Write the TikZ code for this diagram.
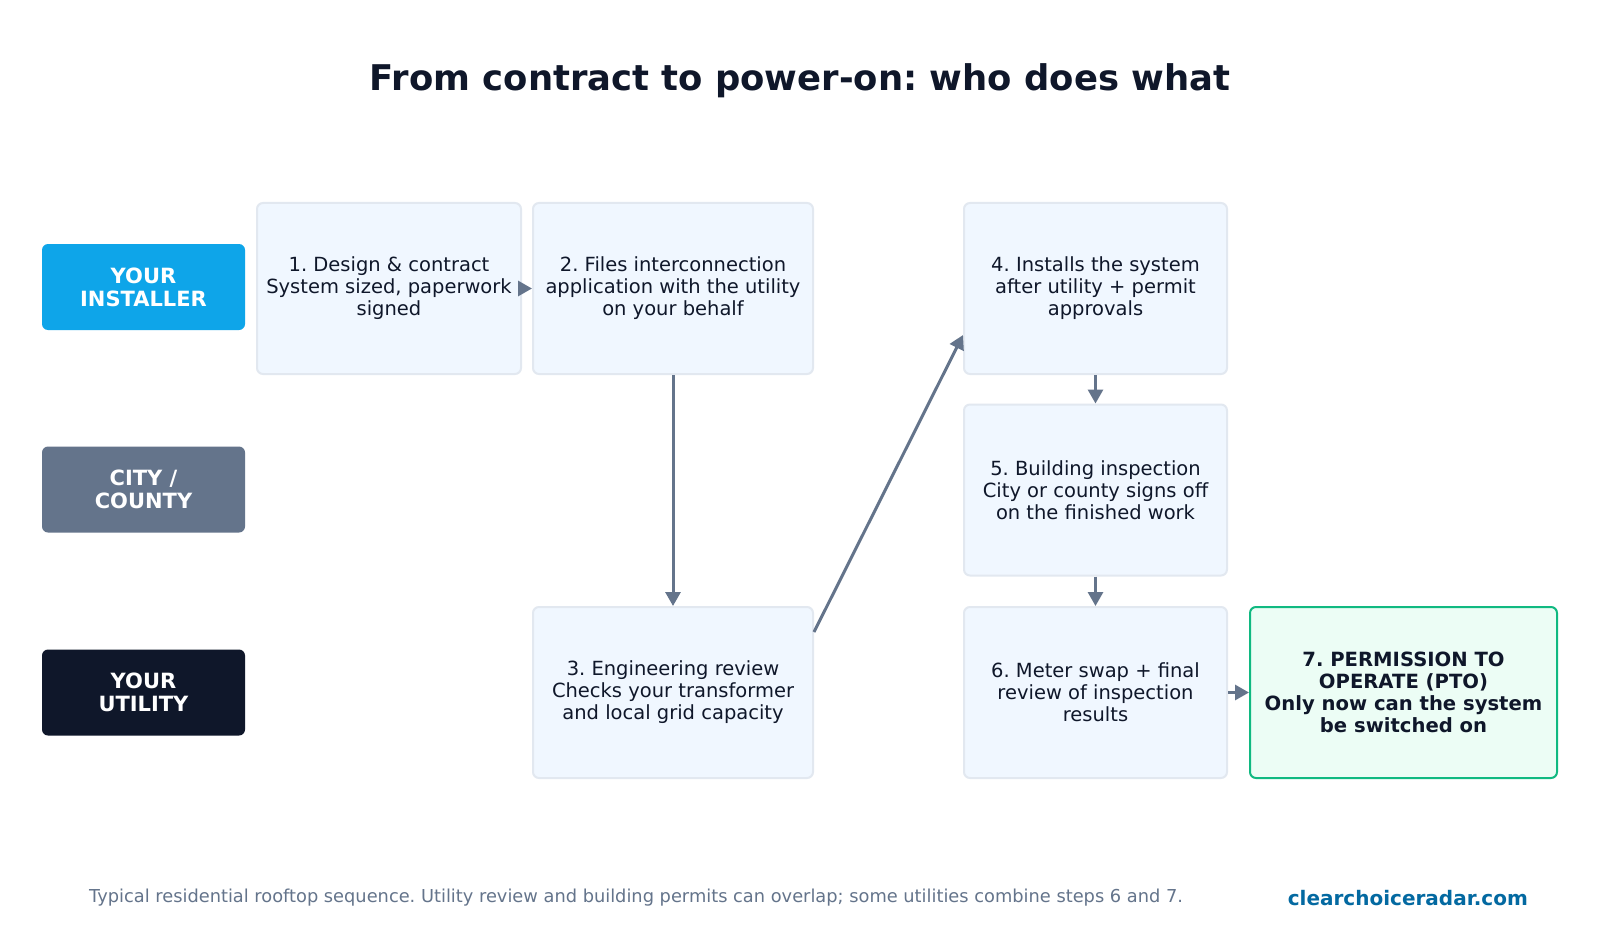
\documentclass[tikz,border=0pt]{standalone}
\usepackage{fontspec}
\setmainfont{DejaVu Sans}
\usetikzlibrary{arrows.meta}
\frenchspacing
\definecolor{cInstaller}{HTML}{0EA5E9}
\definecolor{cCity}{HTML}{64748B}
\definecolor{cUtility}{HTML}{0F172A}
\definecolor{cBoxFill}{HTML}{F0F7FF}
\definecolor{cBoxLine}{HTML}{E2E8F0}
\definecolor{cPtoFill}{HTML}{ECFDF5}
\definecolor{cPtoLine}{HTML}{10B981}
\definecolor{cArrow}{HTML}{64748B}
\definecolor{cText}{HTML}{0F172A}
\definecolor{cFoot}{HTML}{64748B}
\definecolor{cSite}{HTML}{0369A1}
\tikzset{
  lanelabel/.style={rounded corners=6pt, minimum width=203pt, minimum height=86pt, inner sep=0pt,
    text=white, align=center, font=\fontsize{21}{23}\selectfont\bfseries},
  stepbox/.style={draw=cBoxLine, line width=2pt, fill=cBoxFill, rounded corners=6pt,
    minimum width=264pt, minimum height=171pt, inner sep=0pt, text=cText, align=center,
    font=\fontsize{19.5}{22}\selectfont},
  ptobox/.style={stepbox, draw=cPtoLine, fill=cPtoFill, font=\fontsize{19.6}{22}\selectfont\bfseries},
  flow/.style={draw=cArrow, line width=3pt, -{Triangle[length=14pt,width=15pt]}},
}
\begin{document}
\begin{tikzpicture}[x=1pt,y=-1pt]
\useasboundingbox[fill=white] (0,0) rectangle (1600,928);
\node[font=\fontsize{35.4}{40}\selectfont\bfseries, text=cText] (title) at (800,81) {From contract to power-on: who does what};

\node[lanelabel, fill=cInstaller] (lInst) at (143.5,287) {YOUR\\INSTALLER};
\node[lanelabel, fill=cCity] (lCity) at (143.5,489.5) {CITY /\\COUNTY};
\node[lanelabel, fill=cUtility] (lUtil) at (143.5,692.5) {YOUR\\UTILITY};

\node[stepbox] (s1) at (389,288.5) {1. Design \& contract\\System sized, paperwork\\signed};
\node[stepbox, minimum width=280pt] (s2) at (673,288.5) {2. Files interconnection\\application with the utility\\on your behalf};
\node[stepbox, minimum width=280pt] (s3) at (673,692.5) {3. Engineering review\\Checks your transformer\\and local grid capacity};
\node[stepbox, minimum width=263pt] (s4) at (1095.5,288.5) {4. Installs the system\\after utility + permit\\approvals};
\node[stepbox, minimum width=263pt] (s5) at (1095.5,490) {5. Building inspection\\City or county signs off\\on the finished work};
\node[stepbox, minimum width=263pt] (s6) at (1095.5,692.5) {6. Meter swap + final\\review of inspection\\results};
\node[ptobox, minimum width=307pt] (s7) at (1403.5,692.5) {7. PERMISSION TO\\OPERATE (PTO)\\Only now can the system\\be switched on};

\draw[flow] (s1) -- (s2);
\draw[flow] (s2) -- (s3);
\draw[flow] ([yshift=-26pt]s3.north east) -- ([yshift=40pt]s4.south west);
\draw[flow] (s4) -- (s5);
\draw[flow] (s5) -- (s6);
\draw[flow] (s6) -- (s7);

\node[anchor=west, inner sep=0pt, text=cFoot, font=\fontsize{17.8}{20}\selectfont] (foot) at (89,898) {Typical residential rooftop sequence. Utility review and building permits can overlap; some utilities combine steps 6 and 7.};
\node[anchor=east, inner sep=0pt, text=cSite, font=\fontsize{20}{22}\selectfont\bfseries] (site) at (1528,898) {clearchoiceradar.com};
\end{tikzpicture}
\end{document}
